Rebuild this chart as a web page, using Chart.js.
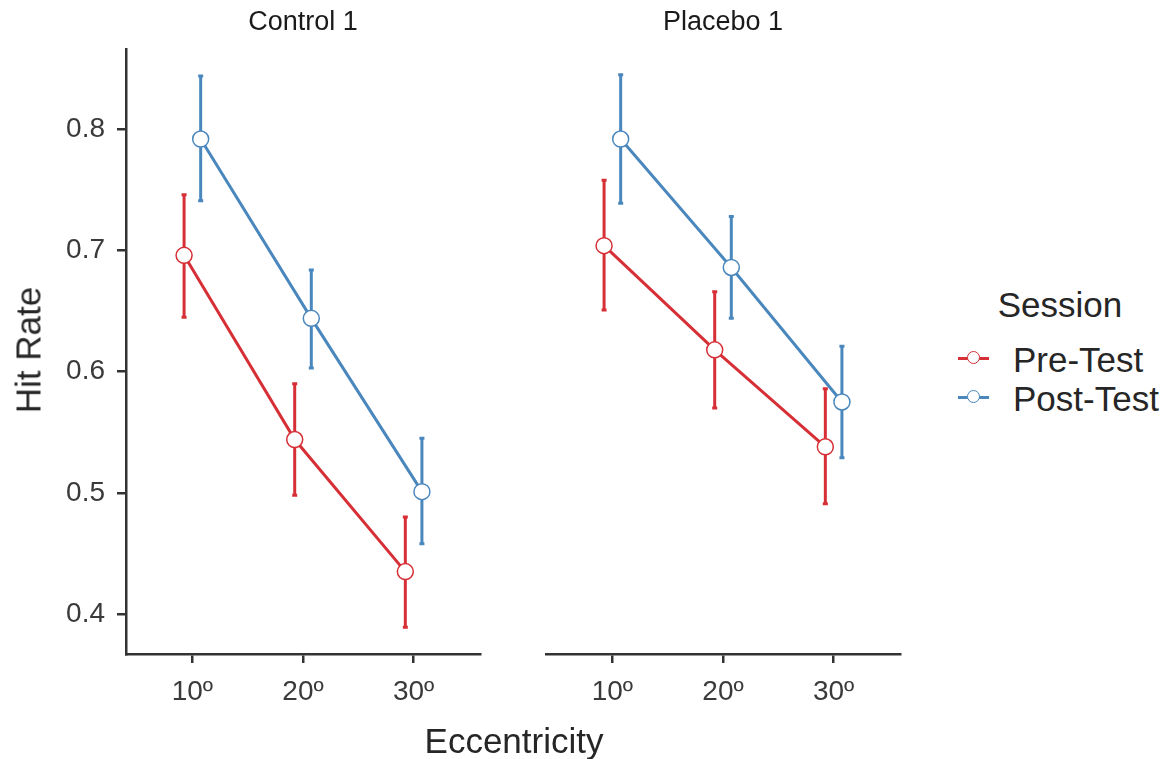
<!DOCTYPE html>
<html>
<head>
<meta charset="utf-8">
<title>Hit Rate by Eccentricity</title>
<script src="https://cdn.jsdelivr.net/npm/chart.js@4.4.1/dist/chart.umd.min.js"></script>
<style>
  body { margin: 0; background: #fff; font-family: 'Liberation Sans', Arial, sans-serif; color: #262626; }
  #wrap { position: relative; width: 1173px; height: 759px; overflow: hidden; }
  canvas { position: absolute; top: 0; }
  .txt { position: absolute; line-height: 1; white-space: nowrap; transform: translate(-50%, -50%); }
  .strip { font-size: 27px; color: #1a1a1a; }
  .axis-title { font-size: 35px; }
  .legend-text { position: absolute; line-height: 1; font-size: 35px; transform: translateY(-50%); }
  .key-line { position: absolute; width: 31px; height: 3px; }
  .key-dot { position: absolute; width: 11px; height: 11px; border-radius: 50%; background: #fff; border: 1.5px solid; }
</style>
</head>
<body>
<div id="wrap">
  <canvas id="controlChart" width="500" height="759" style="left:0"></canvas>
  <canvas id="placeboChart" width="420" height="759" style="left:500px"></canvas>

  <div class="txt strip" style="left:303px; top:21px">Control 1</div>
  <div class="txt strip" style="left:723px; top:21px">Placebo 1</div>
  <div class="txt axis-title" style="left:28px; top:350px; transform:translate(-50%,-50%) rotate(-90deg)">Hit Rate</div>
  <div class="txt axis-title" style="left:514px; top:740px">Eccentricity</div>

  <div class="txt axis-title" style="left:1060px; top:304px">Session</div>
  <div id="legend"></div>
</div>

<script>
// categories
const eccentricityLabels = ['10º', '20º', '30º'];
const sessionNames = ['Pre-Test', 'Post-Test'];
const yTicks = [0.4, 0.5, 0.6, 0.7, 0.8];

// Control 1
const controlPre = [0.696, 0.544, 0.435];
const controlPreLo = [0.645, 0.498, 0.389];
const controlPreHi = [0.746, 0.590, 0.480];
const controlPost = [0.792, 0.644, 0.501];
const controlPostLo = [0.741, 0.603, 0.458];
const controlPostHi = [0.844, 0.684, 0.545];

// Placebo 1
const placeboPre = [0.704, 0.618, 0.538];
const placeboPreLo = [0.651, 0.570, 0.491];
const placeboPreHi = [0.758, 0.666, 0.586];
const placeboPost = [0.792, 0.686, 0.575];
const placeboPostLo = [0.739, 0.644, 0.529];
const placeboPostHi = [0.845, 0.728, 0.621];

const sessionColors = { 'Pre-Test': '#d62f36', 'Post-Test': '#4a87bd' };
const dodge = 0.075;
const FONT = "'Liberation Sans', Arial, sans-serif";
const AXIS = '#333333';

// error bars drawn under lines and points
const errorBarPlugin = {
  id: 'errorBars',
  beforeDatasetsDraw(chart) {
    const ctx = chart.ctx;
    const y = chart.scales.y;
    chart.data.datasets.forEach((ds, di) => {
      const meta = chart.getDatasetMeta(di);
      ctx.save();
      ctx.strokeStyle = ds.borderColor;
      ctx.lineWidth = 3;
      meta.data.forEach((pt, i) => {
        const top = y.getPixelForValue(ds.errHi[i]);
        const bottom = y.getPixelForValue(ds.errLo[i]);
        ctx.beginPath();
        ctx.moveTo(pt.x, top);
        ctx.lineTo(pt.x, bottom);
        ctx.stroke();
        ctx.beginPath();
        ctx.moveTo(pt.x - 2.5, top);
        ctx.lineTo(pt.x + 2.5, top);
        ctx.moveTo(pt.x - 2.5, bottom);
        ctx.lineTo(pt.x + 2.5, bottom);
        ctx.stroke();
      });
      ctx.restore();
    });
  }
};

const chartPage = {
  init() {
    this.renderPanel('controlChart', [
      this.makeDataset('Pre-Test', controlPre, controlPreLo, controlPreHi, -dodge),
      this.makeDataset('Post-Test', controlPost, controlPostLo, controlPostHi, dodge)
    ], true);
    this.renderPanel('placeboChart', [
      this.makeDataset('Pre-Test', placeboPre, placeboPreLo, placeboPreHi, -dodge),
      this.makeDataset('Post-Test', placeboPost, placeboPostLo, placeboPostHi, dodge)
    ], false);
    this.renderLegend();
  },

  makeDataset(label, means, lo, hi, offset) {
    const color = sessionColors[label];
    return {
      label,
      data: means.map((v, i) => ({ x: i + 1 + offset, y: v })),
      errLo: lo,
      errHi: hi,
      borderColor: color,
      borderWidth: 3,
      pointRadius: 8,
      pointHoverRadius: 8,
      pointBorderWidth: 1.5,
      pointBackgroundColor: '#ffffff',
      pointBorderColor: color,
      tension: 0,
      clip: false
    };
  },

  renderPanel(id, datasets, showY) {
    const ctx = document.getElementById(id).getContext('2d');
    new Chart(ctx, {
      type: 'line',
      data: { datasets },
      plugins: [errorBarPlugin],
      options: {
        responsive: false,
        animation: false,
        layout: { padding: { top: 49, right: 20, bottom: 0, left: 0 } },
        plugins: { legend: { display: false }, tooltip: { enabled: false } },
        scales: {
          x: {
            type: 'linear',
            min: 0.4,
            max: 3.6,
            afterBuildTicks: scale => { scale.ticks = eccentricityLabels.map((_, i) => ({ value: i + 1 })); },
            afterFit: scale => { scale.height = 105; },
            grid: { drawOnChartArea: false, drawTicks: true, tickLength: 9, color: AXIS, lineWidth: 2.5 },
            border: { display: true, color: AXIS, width: 2.5 },
            ticks: {
              padding: 12,
              color: '#3a3a3a',
              font: { family: FONT, size: 28 },
              maxRotation: 0,
              callback: v => eccentricityLabels[Math.round(v) - 1]
            }
          },
          y: {
            type: 'linear',
            display: showY,
            min: 0.367,
            max: 0.8663,
            afterBuildTicks: scale => { scale.ticks = yTicks.map(v => ({ value: v })); },
            // left panel keeps room for the tick labels, right panel only a gap
            afterFit: scale => { scale.width = showY ? 126 : 46; },
            grid: { drawOnChartArea: false, drawTicks: true, tickLength: 9, color: AXIS, lineWidth: 2.5 },
            border: { display: true, color: AXIS, width: 2.5 },
            ticks: {
              padding: 12,
              color: '#3a3a3a',
              font: { family: FONT, size: 28 },
              callback: v => v.toFixed(1)
            }
          }
        }
      }
    });
  },

  renderLegend() {
    const el = document.getElementById('legend');
    const rows = [358, 397];
    el.innerHTML = sessionNames.map((name, i) => {
      const c = sessionColors[name];
      const y = rows[i];
      return `
        <div class="key-line" style="left:958px; top:${y - 1.5}px; background:${c}"></div>
        <div class="key-dot" style="left:967px; top:${y - 7}px; border-color:${c}"></div>
        <div class="legend-text" style="left:1013px; top:${y + 1}px">${name}</div>
      `;
    }).join('');
  }
};

document.addEventListener('DOMContentLoaded', () => {
  chartPage.init();
});
</script>
</body>
</html>
